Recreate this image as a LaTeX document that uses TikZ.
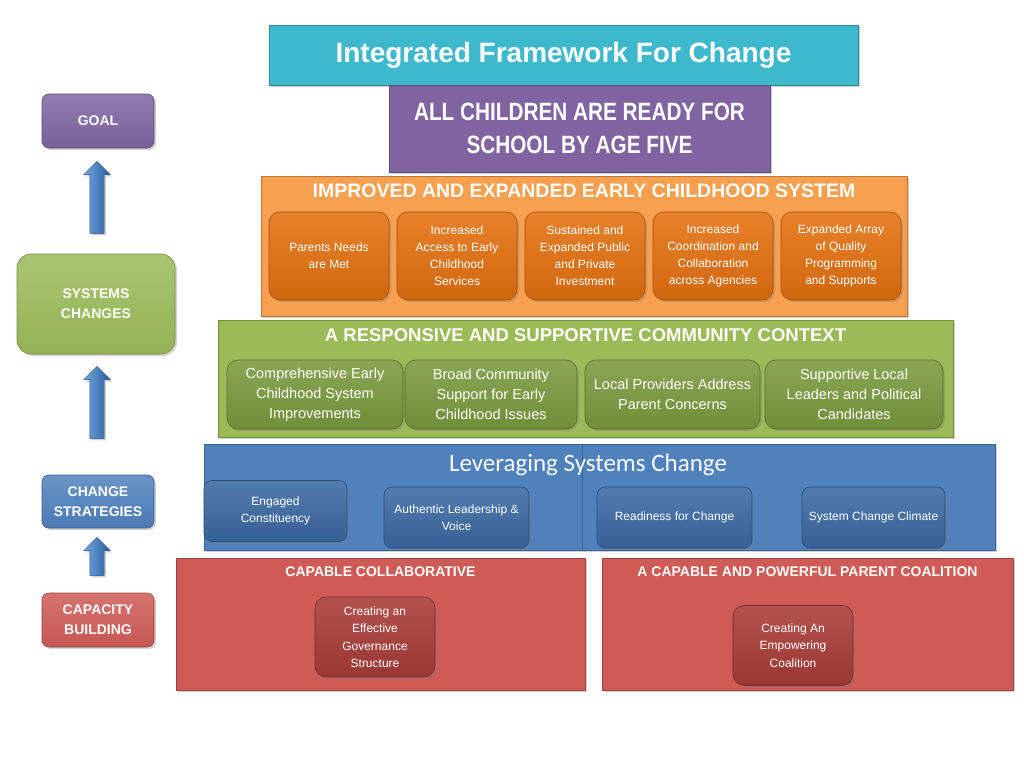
\documentclass[tikz,border=0pt]{standalone}
\usepackage{fontspec}
\setmainfont{Liberation Sans}
\newfontfamily\narrowf{Liberation Sans}[FakeStretch=0.83]
\newfontfamily\calib{Carlito}
\usetikzlibrary{shadows,shapes.arrows}
\definecolor{cyanT}{HTML}{3DB8CC}
\definecolor{purpG}{HTML}{8064A2}
\definecolor{orBig}{HTML}{F8A050}
\definecolor{orIn}{HTML}{E4700E}
\definecolor{grBig}{HTML}{9BBB59}
\definecolor{grIn}{HTML}{7A9A3E}
\definecolor{blBig}{HTML}{4F81BD}
\definecolor{blIn}{HTML}{3B69A3}
\definecolor{rdBig}{HTML}{CF5B57}
\definecolor{rdIn}{HTML}{A83B37}
\definecolor{arL}{HTML}{6FA8E0}
\definecolor{arR}{HTML}{2A5C9C}
\tikzset{
  shd/.style={drop shadow={shadow xshift=2pt,shadow yshift=-2pt,opacity=0.35}},
  bigbox/.style={draw=#1!75!black,line width=0.6pt,fill=#1,shd,inner sep=0pt},
  inbox/.style={draw=#1!70!black,line width=0.6pt,rounded corners=11pt,
     top color=#1!88!white,bottom color=#1!92!black,shd,inner sep=0pt,
     text=white,align=center},
  sidebox/.style={draw=#1!75!black,line width=0.6pt,rounded corners=7pt,
     top color=#1!85!white,bottom color=#1!95!black,shd,inner sep=0pt,
     text=white,align=center,font=\fontsize{14}{20}\selectfont\bfseries},
  uparrow/.style={single arrow,rotate=90,draw=arR!85!black,line width=0.4pt,
     left color=arL,right color=arR,
     single arrow head extend=6pt,single arrow tip angle=90,
     inner xsep=0pt,inner ysep=7pt,shd},
  hdr/.style={text=white,font=\fontsize{#1}{#1}\selectfont\bfseries},
}
\begin{document}
\begin{tikzpicture}[x=1pt,y=-1pt]
\useasboundingbox (0,0) rectangle (1024,768);
% title
\node[bigbox=cyanT,minimum width=589,minimum height=60,text=white,
  font=\fontsize{28}{28}\selectfont\bfseries] (title) at (563.5,55) {Integrated Framework For Change};
% goal
\node[bigbox=purpG,minimum width=381,minimum height=87,text=white,align=center,
  font=\narrowf\fontsize{25}{33}\selectfont\bfseries] (goal) at (579.5,128.5) {ALL CHILDREN ARE READY FOR\\SCHOOL BY AGE FIVE};
% orange system
\node[bigbox=orBig,minimum width=646,minimum height=140] (sys) at (584,246) {};
\node[hdr=19.5] (sysh) at (584,191) {IMPROVED AND EXPANDED EARLY CHILDHOOD SYSTEM};
\tikzset{orbox/.style={inbox=orIn,minimum width=120,minimum height=88,
  font=\fontsize{12}{17}\selectfont}}
\node[orbox] (o1) at (329,256) {Parents Needs\\are Met};
\node[orbox] (o2) at (457,256) {Increased\\Access to Early\\Childhood\\Services};
\node[orbox] (o3) at (585,256) {Sustained and\\Expanded Public\\and Private\\Investment};
\node[orbox] (o4) at (713,256) {Increased\\Coordination and\\Collaboration\\across Agencies};
\node[orbox] (o5) at (841,256) {Expanded Array\\of Quality\\Programming\\and Supports};
% green community
\node[bigbox=grBig,minimum width=735,minimum height=117] (com) at (585.5,378.5) {};
\node[hdr=18.5] (comh) at (585.5,335) {A RESPONSIVE AND SUPPORTIVE COMMUNITY CONTEXT};
\tikzset{grbox/.style={inbox=grIn,minimum height=69,
  font=\fontsize{14.5}{20}\selectfont}}
\node[grbox,minimum width=176] (g1) at (315,394.5) {Comprehensive Early\\Childhood System\\Improvements};
\node[grbox,minimum width=172] (g2) at (491,394.5) {Broad Community\\Support for Early\\Childhood Issues};
\node[grbox,minimum width=175] (g3) at (672.5,394.5) {Local Providers Address\\Parent Concerns};
\node[grbox,minimum width=178] (g4) at (854,394.5) {Supportive  Local\\Leaders and Political\\Candidates};
% blue strategies
\node[bigbox=blBig,minimum width=380,minimum height=106] (lev1) at (394,497) {};
\node[bigbox=blBig,minimum width=413,minimum height=106] (lev2) at (788.5,497) {};
\node[text=white,font=\calib\fontsize{25}{25}\selectfont] (levh) at (588,465) {Leveraging Systems Change};
\tikzset{blbox/.style={inbox=blIn,minimum height=61,rounded corners=8pt,
  font=\fontsize{12}{17}\selectfont}}
\node[blbox,minimum width=143] (b1) at (275.5,511) {Engaged\\Constituency};
\node[blbox,minimum width=145] (b2) at (456.5,517.5) {Authentic  Leadership \&\\Voice};
\node[blbox,minimum width=155] (b3) at (674.5,517.5) {Readiness for Change};
\node[blbox,minimum width=143] (b4) at (873.5,517.5) {System Change Climate};
% red capacity
\node[bigbox=rdBig,minimum width=409,minimum height=132] (cap1) at (380.5,624) {};
\node[bigbox=rdBig,minimum width=411,minimum height=132] (cap2) at (807.5,624) {};
\node[hdr=14] (cap1h) at (380.5,572) {CAPABLE COLLABORATIVE};
\node[hdr=14] (cap2h) at (807.5,572) {A CAPABLE AND POWERFUL PARENT COALITION};
\tikzset{rdbox/.style={inbox=rdIn,minimum width=120,minimum height=80,
  font=\fontsize{12}{17.5}\selectfont}}
\node[rdbox] (r1) at (375,637) {Creating an\\Effective\\Governance\\Structure};
\node[rdbox] (r2) at (793,645.5) {Creating An\\Empowering\\Coalition};
% left column
\node[sidebox=purpG,minimum width=112,minimum height=54] (sGoal) at (98,121) {GOAL};
\node[sidebox=grBig,minimum width=158,minimum height=100,rounded corners=14pt] (sSys) at (96,304) {SYSTEMS\\CHANGES};
\node[sidebox=blBig,minimum width=112,minimum height=53] (sStr) at (98,501.5) {CHANGE\\STRATEGIES};
\node[sidebox=rdBig,minimum width=112,minimum height=54] (sCap) at (98,620) {CAPACITY\\BUILDING};
\node[uparrow,minimum height=72] (a1) at (97,201) {};
\node[uparrow,minimum height=72] (a2) at (97,406) {};
\node[uparrow,minimum height=38] (a3) at (97,560) {};
\end{tikzpicture}
\end{document}
